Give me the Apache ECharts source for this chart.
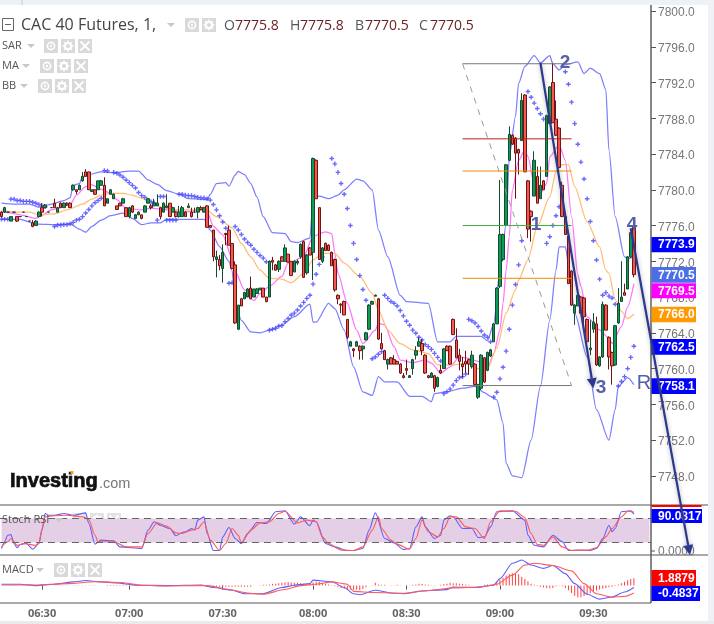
<!DOCTYPE html>
<html><head><meta charset="utf-8">
<style>html,body{margin:0;padding:0;background:#fff}#c{width:714px;height:624px}</style>
<script src="https://cdn.jsdelivr.net/npm/echarts@6/dist/echarts.min.js"></script>
</head><body><div id="c"></div><script>
const timeTickIdx=[13,41,71,100,130,160,190];
const timeTickLabels=['06:30','07:00','07:30','08:00','08:30','09:00','09:30'];
const priceTicks=[7748,7752,7756,7760,7764,7768,7772,7776,7780,7784,7788,7792,7796,7800];
const opens=[7777.5,7777.5,7777.5,7776.5,7777.5,7777,7777,7777.5,7777,7776.5,
7776.3,7776,7777,7778,7778,7777.5,7778,7778.5,7777.5,7778.5,
7778,7778.5,7778.5,7780,7780,7780,7781,7782,7782,7779.8,
7780,7780,7780.5,7780.5,7778.5,7779.5,7779,7778.2,7778.5,7778.5,
7778,7777,7778.2,7776.8,7777.2,7777.2,7777.5,7778.5,7778.2,7778.2,
7778.2,7778,7777.5,7778,7778.5,7777.5,7777.5,7777,7777,7777.5,
7778,7777.5,7777.5,7777.5,7778,7777.5,7778.2,7776,7775.5,7772.2,
7772.2,7771.2,7775.1,7775.5,7774,7771.6,7764.4,7767.8,7767.8,7768,
7769,7768,7768.4,7768.8,7769,7768,7768,7772.1,7771.6,7771.1,
7772.5,7772,7772.8,7772,7770.8,7771.8,7772.5,7774.2,7770.7,7773.5,
7773,7783.3,7778,7772,7774,7773.8,7773,7772.2,7768.2,7767.2,
7767.5,7765.5,7762.5,7762.2,7762.5,7762.5,7762.2,7763.2,7764.4,7767.2,
7768.1,7767.8,7762.8,7762,7760.5,7761.2,7761,7760.8,7760.5,7759.2,
7760,7759,7760,7761.5,7762.5,7762.8,7761.5,7759.2,7759,7759.2,
7758,7759.8,7760,7762.5,7762.5,7765.5,7763.2,7761.5,7760.5,7760.8,
7761,7760.2,7760.5,7756.8,7757.8,7761.2,7759.8,7761.4,7763,7765,
7769.2,7772.2,7776,7783.3,7786.1,7785.8,7784.5,7785.5,7790.6,7781,
7777.6,7779.3,7781.5,7779,7781,7781.5,7787.4,7792,7787.9,7786.9,
7780.5,7777,7774.8,7770.9,7766.2,7767,7768,7767.9,7765.5,7762.1,
7764.4,7765,7760.3,7761.3,7767.1,7763.5,7761.8,7760.4,7765.1,7767.5,
7768.5,7768.9,7772.5,7775.8];
const closes=[7777,7778,7777.5,7777,7777.5,7776.5,7777,7777.5,7777,7776.5,
7775.9,7776.5,7777.5,7777.5,7778.3,7777.5,7778,7778,7778,7778,
7778.5,7778.3,7778,7780.5,7779.8,7780.5,7781.5,7781.5,7780,7780,
7779.5,7781,7781,7778.2,7779,7780,7779.5,7777.8,7778.2,7779,
7777,7778,7777.5,7777.2,7777.5,7776.8,7778.2,7779,7778,7778.5,
7778.5,7777,7778.5,7778.2,7777,7778,7777,7777.5,7778,7777,
7778.2,7777,7777.5,7778,7777.8,7778,7775.8,7775.8,7772.5,7772.5,
7771.5,7773,7775,7773.8,7771.2,7765.1,7767.1,7767,7768.5,7768.9,
7767.8,7768.9,7768.9,7769,7768,7767.5,7772,7771.9,7771,7772,
7772,7773.5,7771.9,7770.4,7772,7772,7773.9,7770.2,7772.7,7772.7,
7783.5,7779,7772.2,7773.5,7773.2,7773.2,7771.5,7768.8,7767.8,7767.1,
7766,7763.5,7763,7762,7763,7762,7762.5,7764,7767.1,7767.5,
7768.2,7763.3,7762.2,7761,7761,7760.5,7760.5,7760.5,7759.5,7759,
7759.8,7759.2,7761,7762,7763,7762,7759.5,7759,7759.5,7757.8,
7759,7759.5,7762.2,7762,7760.5,7763.8,7761.2,7760.8,7760.2,7760.5,
7760.5,7761.5,7758.2,7758.2,7761.5,7758.5,7761.8,7762.1,7765,7769,
7775,7775,7782.8,7786.2,7785.1,7784.1,7784.1,7790,7782,7775.6,
7777,7783.3,7778.5,7780.5,7780,7788.3,7791.5,7787.5,7786.1,7782.5,
7777,7775,7769.5,7767.1,7767.1,7768.2,7766.2,7765.8,7763,7762.3,
7765.2,7760.4,7761.3,7767.2,7764.3,7761.3,7760.3,7764.8,7767.3,7768,
7768.2,7772.5,7775.2,7770.5];
const lows=[7776.9,7777.4,7777.5,7776.5,7777.5,7776.4,7777,7777.5,7777,7776.5,
7775.8,7776,7776.9,7777,7778,7777.5,7778,7778,7777.5,7778,
7778,7778.2,7778,7779.9,7779.5,7780,7780.9,7781.5,7780,7779.8,
7779.4,7780,7780.5,7778.2,7778.5,7779.5,7779,7777.8,7778.2,7778.5,
7777,7776.8,7777.4,7776.8,7777.2,7776.7,7777.5,7778.5,7777.8,7778.2,
7778.2,7776.7,7777.5,7778,7777,7777.5,7776.9,7776.9,7777,7777,
7778,7776.9,7777.4,7776.8,7777.7,7777.5,7775.8,7775.7,7772,7770.2,
7771,7769.6,7773.8,7773.8,7771.2,7765,7764.3,7767,7767.8,7768,
7767.8,7768,7768.4,7768.8,7768,7767.4,7768,7771,7771,7770.8,
7772,7772,7771.9,7770.4,7770.8,7771.6,7772.3,7770.2,7770.5,7772.7,
7769.9,7779,7772.2,7771.8,7773.2,7773.2,7771.5,7768.6,7767.2,7766.2,
7766,7763.3,7762.5,7761.3,7762.5,7761,7761,7763.2,7764.3,7767.2,
7768.1,7763.2,7762.2,7761,7759.9,7760.5,7760.5,7760.5,7759.4,7758.9,
7759.3,7759,7759.3,7761,7762.5,7761.5,7759.4,7758.9,7759,7757.4,
7757.9,7759.4,7760,7762,7760.4,7763.8,7761.2,7759.8,7759,7759.5,
7759.3,7760,7758,7756.6,7757.6,7758.4,7759.7,7761.3,7763,7765,
7769,7772,7776,7783.2,7785,7779,7781.7,7785.5,7782,7774.6,
7774.2,7779.3,7778.5,7779,7780,7781.5,7787.4,7787.5,7786,7782.5,
7777,7775,7769.5,7767,7764.9,7767,7766.2,7765,7762.5,7761.5,
7764,7760.3,7760.2,7761.2,7764.3,7759.9,7758.2,7760.3,7765,7767.5,
7768.2,7768.9,7772.4,7770.2];
const highs=[7777.6,7778.1,7777.5,7777,7777.5,7777,7777,7777.5,7777,7776.5,
7776.6,7776.6,7777.6,7778.5,7778.4,7777.5,7778,7779,7778.1,7778.6,
7778.6,7778.6,7778.6,7780.6,7780,7780.6,7782,7782.3,7782,7780,
7780,7781,7781.1,7781.4,7779,7780.1,7779.6,7778.2,7778.5,7779.1,
7778,7778.1,7778.3,7777.3,7777.6,7777.2,7778.3,7779.1,7778.4,7779,
7779.5,7778,7778.6,7779.5,7778.5,7778.1,7777.6,7778.2,7778.2,7777.6,
7778.5,7778,7778,7778.1,7778.2,7778.1,7778.3,7776,7775.5,7773.2,
7772.7,7773.9,7775.2,7776,7774,7772,7767.1,7767.9,7768.6,7769,
7770.3,7768.9,7769,7769,7769,7768,7772.1,7772.5,7771.7,7772.1,
7772.6,7773.9,7772.8,7772,7772.1,7772.2,7774,7774.3,7772.8,7773.6,
7783.6,7783.4,7778,7773.6,7774.1,7773.9,7773.1,7772.3,7768.3,7767.3,
7767.6,7765.5,7763.1,7762.3,7763.1,7762.6,7762.6,7764.1,7767.2,7767.6,
7768.3,7767.9,7764,7762.1,7761.1,7761.3,7761.5,7760.9,7760.6,7759.5,
7761,7759.3,7761.1,7762.5,7763.5,7763.3,7761.6,7759.3,7759.6,7759.3,
7759.1,7760.4,7762.3,7762.6,7762.6,7765.6,7764.5,7762.2,7761.3,7762,
7761.1,7762,7760.6,7758.3,7761.6,7761.3,7761.9,7762.2,7765.1,7769.1,
7781.1,7775.1,7782.9,7787.1,7786.2,7785.9,7784.6,7790.8,7790.7,7781.1,
7777.7,7784.3,7782.6,7782.6,7781.1,7788.4,7791.6,7794.2,7790,7787,
7780.9,7777.1,7774.9,7771,7767.2,7768.3,7768.1,7768,7765.6,7765.4,
7766.2,7765.8,7761.4,7767.5,7767.2,7763.6,7761.9,7764.9,7769,7772,
7769.5,7772.6,7775.3,7776];
const bbUpper=[[0,7778.5],[4,7778.4],[9,7778.4],[12,7778.05],[16,7778.4],[20,7778.8],[22,7779.1],[23,7780.5],[25,7780.7],[26,7781.5],[28,7781.7],[32,7782],[36,7781.9],[41,7782.1],[44,7782.1],[47,7781.1],[50,7780.6],[53,7779.9],[57,7779.5],[60,7779],[66,7778.9],[67,7779.5],[69,7780.7],[72,7780.8],[73,7780.4],[75,7781.65],[76,7782.07],[78,7781.7],[80,7780.7],[82,7779.2],[84,7777],[87,7775.2],[91,7775.1],[93,7774.2],[95,7774.1],[99,7774.6],[100,7779],[102,7779.3],[105,7779],[108,7779.4],[110,7780],[114,7781.2],[116,7781],[119,7780],[121,7775.5],[124,7772.5],[128,7768.2],[130,7767.5],[137,7767.3],[140,7763],[144,7763],[146,7763.6],[150,7763.6],[154,7763.6],[156,7763.1],[158,7765],[160,7771],[162,7776.2],[163,7783.7],[165,7788.2],[166,7791.9],[168,7793.8],[171,7795],[173,7794.2],[176,7795],[177,7794.1],[179,7793.4],[181,7794],[185,7794.3],[187,7793],[189,7793.6],[192,7793],[194,7791.2],[195,7784.4],[197,7777],[200,7772.5],[201,7772.3],[203,7772.5]];
const bbLower=[[0,7776.7],[6,7776.7],[10,7776.3],[12,7776.15],[17,7776.1],[22,7776.2],[25,7775.6],[27,7775.25],[29,7775.9],[32,7776.6],[35,7777.1],[39,7777.4],[42,7776.8],[45,7776.1],[48,7776.3],[51,7776.3],[53,7776.7],[61,7776.7],[65,7776.7],[67,7775.5],[70,7773.65],[73,7772],[74,7771],[75,7767.3],[77,7765.4],[80,7764.1],[83,7764],[86,7764.3],[90,7764.9],[94,7765.8],[99,7767.2],[100,7765.2],[101,7765.2],[105,7767.3],[107,7766.7],[110,7764.3],[113,7760.2],[116,7757.4],[119,7757],[121,7759.1],[123,7758.5],[127,7758.5],[131,7756.9],[135,7756.9],[138,7756.3],[139,7757.2],[143,7757.4],[148,7757.8],[152,7758],[155,7757.3],[157,7756.9],[159,7756.5],[161,7753.9],[162,7749.4],[164,7748],[167,7747.8],[170,7752],[173,7758],[176,7765.4],[178,7771],[179,7773.6],[181,7773.6],[182,7771.8],[184,7766.2],[188,7761.3],[191,7755.4],[195,7752],[197,7755.4],[198,7758],[201,7759],[203,7758.2]];
const maFast=[[0,7777.5],[2,7777.45],[6,7777.2],[11,7776.8],[13,7777.15],[16,7777.75],[22,7778.3],[24,7779.4],[27,7780.35],[29,7780.55],[32,7780.05],[35,7779.6],[37,7778.9],[40,7777.95],[45,7777.75],[48,7777.95],[53,7777.75],[59,7777.55],[64,7777.75],[66,7777.55],[68,7775.9],[71,7774.95],[74,7772.35],[75,7770.85],[78,7768.8],[81,7767.6],[83,7768.4],[86,7769.2],[90,7770.3],[92,7771.8],[97,7772.5],[100,7774.8],[104,7775.3],[106,7775.1],[107,7772.9],[108,7770.65],[111,7767.3],[114,7764.3],[116,7762.8],[120,7764.3],[121,7765.05],[123,7764.9],[126,7762.45],[128,7760.95],[132,7760.65],[136,7760.95],[138,7760.6],[141,7759.5],[144,7760.2],[147,7761.3],[150,7761.15],[153,7760.8],[156,7760],[158,7761.7],[160,7764.3],[161,7767.3],[162,7771],[163,7774.8],[164,7780],[166,7783.3],[168,7784.45],[169,7783.7],[171,7780.7],[173,7779.6],[175,7780.7],[176,7783.7],[179,7785],[181,7783.3],[183,7777],[185,7770.5],[186,7769.2],[188,7765.8],[192,7764.3],[195,7763.4],[196,7762.8],[199,7764.7],[201,7766.9],[203,7769.5]];
const maSlow=[[0,7777.75],[4,7777.5],[9,7777.5],[12,7777.2],[17,7777.3],[21,7777.75],[26,7778.4],[29,7778.95],[32,7779.4],[35,7779.6],[39,7779.6],[42,7779.4],[45,7779.05],[48,7778.7],[51,7778.1],[55,7777.75],[60,7777.75],[64,7777.75],[66,7777.7],[69,7777],[74,7775.75],[77,7774],[80,7772.5],[83,7771],[86,7770.1],[90,7770],[93,7769.6],[97,7770.65],[100,7772.15],[103,7772.9],[107,7772.9],[110,7771.8],[115,7770.3],[119,7768.4],[121,7766.55],[124,7764.3],[128,7762.8],[132,7762.1],[137,7761.7],[140,7760.4],[144,7760.4],[150,7760.6],[153,7760],[156,7760],[159,7762.3],[162,7766.2],[165,7768.8],[166,7769.9],[169,7772.2],[172,7775.9],[176,7779.2],[178,7782],[180,7782.85],[182,7782.8],[184,7780.35],[188,7776.4],[192,7773.6],[194,7771],[195,7770.65],[197,7767.7],[199,7766.4],[201,7765.6],[203,7766.1]];
const sarPoints=[[0,7776.7],[1,7776.7],[2,7776.7],[3,7778.95],[4,7778.95],[5,7778.8],[6,7778.8],[7,7778.7],[8,7778.7],[9,7778.7],[10,7778.6],[11,7778.5],[12,7778.35],[13,7778.2],[14,7778.1],
[17,7775.9],[18,7776.05],[19,7776.05],[20,7776.1],[21,7776.1],[22,7776.2],[23,7776.35],[24,7776.6],[25,7776.7],[26,7777],[27,7777.4],[28,7777.8],[29,7778.2],[30,7778.55],[31,7778.8],[32,7779.05],
[33,7782.15],[34,7782.1],[36,7781.95],[37,7781.85],[38,7781.65],[39,7781.4],[40,7781.1],[41,7780.8],[42,7780.5],[43,7780.2],[44,7779.7],[45,7779.35],[46,7779.15],[47,7778.8],[48,7778.65],[49,7778.55],
[50,7776.6],[51,7779.25],[52,7779.25],[53,7776.6],[54,7776.6],[55,7776.6],[56,7776.6],[57,7779.5],[58,7779.5],[59,7779.4],[60,7779.35],[61,7779.35],[62,7779.25],[63,7779.15],[64,7779.1],[65,7779.1],[66,7779],[67,7778.85],[68,7778.35],[69,7777.75],[70,7777.1],[71,7776.4],[72,7775.7],[73,7769.55],[74,7769.6],
[75,7775.9],[76,7775.5],[77,7775],[78,7774.5],[79,7774.1],[80,7773.8],[81,7773.35],[82,7773],[83,7772.65],[84,7772.35],[85,7771.95],
[86,7764.3],[87,7764.4],[88,7764.5],[89,7764.75],[90,7764.8],[91,7765.25],[92,7765.6],[93,7766],[94,7766.2],[95,7766.55],[96,7767],[97,7767.4],[98,7767.85],[99,7768.2],[100,7769.45],[101,7770.55],[102,7771.65],[103,7772.5],
[106,7783.5],[107,7782.9],[108,7781.95],[109,7780.7],[110,7779.5],[111,7777.9],[112,7776],[113,7774],[114,7772.2],[115,7770.4],[116,7768.85],[117,7767.65],
[119,7761.1],[120,7761.3],[121,7761.6],[122,7761.9],
[123,7768.2],[124,7767.85],[125,7767.5],[126,7767.3],[127,7767],[128,7766.5],[129,7765.9],[130,7765.3],[131,7764.85],[132,7764.3],[133,7763.95],[134,7763.5],[135,7763.2],[136,7762.7],[137,7762.45],[138,7762.15],[139,7761.7],[140,7761.25],[141,7760.85],
[142,7757.2],[143,7757.4],[144,7757.7],[145,7758.15],[146,7758.65],[147,7759],[148,7759.1],[149,7759.4],
[150,7765.5],[151,7765.35],[152,7765.1],[153,7764.7],[154,7764.2],[155,7763.75],[156,7763.5],[157,7763],
[158,7756.8],[159,7757.35],[160,7758.85],[161,7760.15],[162,7761.95],[163,7764.4],[164,7767.1],[165,7769.4],[166,7771.6],[167,7774.3],
[169,7791],[170,7790.35],[171,7789.7],[172,7789.1],[173,7788.5],[174,7787.9],
[175,7774],[176,7774.75],[177,7776],[178,7777.1],[179,7778.1],
[181,7793.2],[182,7791.8],[183,7789.8],[184,7787.4],[185,7785.1],[186,7783.1],[187,7781.2],[188,7779],[189,7776.45],[190,7774.3],[191,7772.15],[192,7770],[193,7768.2],[194,7768.5],[195,7768.1],[196,7767.9],[197,7767.2],
[198,7758.05],[199,7758.55],[200,7759.1],[201,7760],[202,7761.25],[203,7762.5]];
const stochK=[[0,5],[1,21.7],[2,38],[3,40],[4,17.5],[5,6.7],[6,15],[8,17.5],[10,3.3],[12,17.5],[13,51],[14,92.5],[15,88],[17,88],[20,92.5],[23,88],[27,94],[28,67.5],[30,16],[32,26],[36,24],[38,9],[45,5],[47,51],[49,72],[51,63],[54,55],[56,37],[58,45],[59,47],[61,55],[62,51],[63,76],[65,84],[66,42.5],[68,0],[70,0],[71,34],[73,57.5],[75,30],[77,17.5],[79,42.5],[82,70],[85,67.5],[88,97],[91,99],[94,66],[96,84],[99,62],[100,76],[101,72],[104,17.5],[107,9],[111,0],[113,0],[116,5],[118,51],[120,94],[123,30],[126,19],[129,2.5],[131,5],[133,59],[135,84],[136,59],[139,30],[141,38],[142,76],[144,87],[145,84],[148,55],[151,55],[153,32.5],[155,34],[157,59],[159,97],[164,99],[168,76],[169,38],[171,13],[174,9],[177,38],[180,22],[182,0],[185,1],[189,0],[191,5],[193,30],[195,63],[196,47],[197,55],[199,97],[202,99],[203,91]];
const stochD=[[0,9],[2,22],[3,30],[5,13],[7,17.5],[11,13],[12,19],[13,55],[14,84],[17,87],[21,88],[26,84],[28,77.5],[30,38],[31,22],[36,22],[40,9],[45,9],[47,42.5],[50,69],[53,61],[56,44],[58,42.5],[61,51],[63,55],[65,72],[67,26],[70,0],[72,17.5],[74,55],[76,38],[77,19],[80,51],[83,69],[86,72],[89,92.5],[91,98],[95,69],[98,76],[101,72],[103,34],[105,17.5],[109,1],[113,0],[116,9],[119,51],[121,84],[122,55],[125,26],[127,16],[131,3],[133,30],[135,76],[137,47],[140,34],[142,55],[144,84],[146,84],[149,59],[152,55],[155,30],[157,72],[160,99],[165,98],[168,82.5],[170,42.5],[172,15],[174,13],[177,34],[180,9],[183,0],[188,1],[191,7],[194,34],[196,55],[199,84],[201,98],[203,96]];
const macdLine=[[0,.35],[6,.35],[11,0],[17,.35],[23,.95],[27,1.3],[32,.95],[37,.7],[43,.1],[53,0],[64,.15],[68,-.5],[74,-1.2],[78,-2.1],[84,-2.1],[90,-.5],[94,.1],[99,.5],[100,1.4],[106,1],[110,-.5],[113,-2.1],[115,-2.35],[120,-1.2],[125,-1.9],[129,-2.1],[135,-1.4],[143,-1.05],[145,-.35],[152,-.5],[158,.1],[160,1.8],[164,5.75],[167,6.6],[170,5.3],[174,4.45],[177,5.2],[181,3.1],[184,.5],[188,-2.25],[192,-3.5],[196,-2.95],[200,-1.65],[203,-.48]];
const macdSignal=[[0,.15],[11,.15],[21,.5],[30,1],[38,.8],[45,.1],[53,-.1],[66,0],[73,-1],[79,-1.9],[84,-2.25],[91,-1],[96,0],[101,.35],[106,.95],[111,.35],[113,-1.5],[120,-1.8],[129,-2],[138,-1.2],[145,-.6],[154,-.35],[159,.35],[164,2.7],[168,5.3],[171,5.75],[177,5.2],[183,3.8],[187,.5],[191,-2.1],[196,-3],[200,-2.8],[203,-1.9]];
const macdHist=[0,0,0,0,0,0,0,0,0,0,0,0,0,0,0,0,0,
.1,.1,.1,.1,.1,.1,.1,.1,.1,.1,.1,.1,.1,.1,
0,0,0,-.1,-.1,-.1,-.1,-.1,-.1,-.1,
0,0,0,0,0,0,0,0,0,0,0,0,0,0,0,0,0,0,0,0,0,0,0,0,0,0,
-.3,-.3,-.3,-.3,-.3,-.3,-.3,-.3,-.3,-.3,-.3,-.3,-.3,-.3,
.05,0,.1,
.2,.2,.3,.4,.5,.6,.7,.8,.9,.8,.7,.7,.6,.5,.4,.5,
.8,1,.9,.7,.5,.3,.1,
-.2,-.4,-.6,-.8,-.9,-1,-1.1,-1.1,-1.2,-.9,-.4,
0,.1,.7,.3,.2,.2,0,.1,.1,.2,.1,0,.1,.1,
.2,.3,.5,.4,.3,.2,.1,.1,0,
.2,.4,.5,.7,.6,.6,.5,.4,.3,.2,.1,0,0,0,
.2,.3,.2,.3,.8,1.5,2,2.6,3,3.2,3.2,2.9,2.3,1.7,1.1,.5,.2,
-.1,-.3,-.5,-.6,-.7,-.6,-.2,.1,
-.2,-.6,-1.2,-1.9,-2.6,-3,-3,-2.7,-2.4,-2,-1.6,-1.3,-1,-.8,-.6,-.4,-.3,-.1,
.3,.6,1,1.4,1.7,1.9];
// Fibonacci-style drawing: [startIndex, endIndex, price]
const fibLevels=[[148,183,7794.1,'#777'],[148,183,7785.7,'#b22222'],[148,183,7782.1,'#f08c00'],[148,183,7776,'#3cb043'],[148,183,7770.1,'#f08c00'],[148,183,7758.1,'#777']];
const trendDash=[148,7794.1,183,7758.1];
const arrows=[[172.6,7794.2,189.6,7757.8],[202.4,7775.7,220.9,7739.15]];
const categories=opens.map((_,i)=>{const k=timeTickIdx.indexOf(i);return k>=0?timeTickLabels[k]:'';});
for(let i=opens.length;i<209;i++)categories.push('');

const plus='path://M3.5 0h3v3.5h3.5v3h-3.5v3.5h-3v-3.5h-3.5v-3h3.5z';
const line=(name,data,color,ax,w)=>({name,type:'line',data,xAxisIndex:ax,yAxisIndex:ax,symbol:'none',smooth:.25,smoothMonotone:'x',lineStyle:{color,width:w||1.25},silent:true,z:3});

function icon(x,y,kind,op){
  const c=[{type:'rect',shape:{x:x,y:y,width:14,height:14},style:{fill:'#d9d9d9',opacity:op||1}}];
  const m=x+7,n=y+7;
  if(kind==='eye'){c.push({type:'circle',shape:{cx:m,cy:n,r:3.6},style:{fill:'none',stroke:'#fff',lineWidth:1.6}});c.push({type:'circle',shape:{cx:m,cy:n,r:1.2},style:{fill:'#fff'}});}
  if(kind==='gear'){c.push({type:'circle',shape:{cx:m,cy:n,r:3.2},style:{fill:'none',stroke:'#fff',lineWidth:2.2}});
    [[0,-4.6],[0,4.6],[-4.6,0],[4.6,0],[3.3,3.3],[-3.3,3.3],[3.3,-3.3],[-3.3,-3.3]].forEach(d=>c.push({type:'rect',shape:{x:m+d[0]-.8,y:n+d[1]-.8,width:1.6,height:1.6},style:{fill:'#fff'}}));}
  if(kind==='x'){c.push({type:'line',shape:{x1:x+2.5,y1:y+2.5,x2:x+11.5,y2:y+11.5},style:{stroke:'#fff',lineWidth:1.8}});c.push({type:'line',shape:{x1:x+11.5,y1:y+2.5,x2:x+2.5,y2:y+11.5},style:{stroke:'#fff',lineWidth:1.8}});}
  return {type:'group',silent:true,z:20,children:c};
}
function tri(x,y){return {type:'polygon',z:20,shape:{points:[[x,y],[x+8,y],[x+4,y+4]]},style:{fill:'#c8c8c8'}};}
function txt(x,y,s,font,fill,align,z,extra){return {type:'text',z:z||20,x,y,style:Object.assign({text:s,font,fill,align:align||'left',verticalAlign:'middle'},extra||{})};}
function box(x1,x2,y1,y2,fill,s){return [{type:'rect',z:30,shape:{x:x1,y:y1,width:x2-x1,height:y2-y1},style:{fill}},
  txt(658,(y1+y2)/2+.5,s,'bold 12px "Liberation Sans"','#fff','left',31)];}
function hl(x1,x2,y,col,w){return {type:'line',z:25,shape:{x1,y1:y,x2,y2:y},style:{stroke:col,lineWidth:w||1.2}};}

const ui='"Open Sans"';
const labelFont=`11px ${ui}`;
const gfx=[
 {type:'rect',z:40,shape:{x:0,y:0,width:714,height:5},style:{fill:'#eef1f5'}},
 {type:'rect',z:40,shape:{x:708,y:0,width:6,height:624},style:{fill:'#eef1f5'}},
 {type:'rect',z:40,shape:{x:0,y:621,width:714,height:3},style:{fill:'#e9ebee'}},
 {type:'line',z:41,shape:{x1:22,y1:0,x2:22,y2:5},style:{stroke:'#c8ccd2',lineWidth:1}},
 hl(0,708,505,'#555'),hl(0,708,555,'#555'),hl(0,651,603,'#555'),
 {type:'line',z:25,shape:{x1:651,y1:5,x2:651,y2:603},style:{stroke:'#555',lineWidth:1.4}},
 hl(651,655,551,'#555',1),
 // header
 {type:'rect',z:20,shape:{x:2.5,y:18.5,width:11,height:12},style:{fill:'none',stroke:'#666',lineWidth:1}},
 hl(5,11,24.5,'#666',1),
 txt(21,25,'CAC 40 Futures, 1,',`16px ${ui}`,'#444'),tri(167,23),
 icon(185,18,'eye'),icon(202,18,'gear'),
 txt(224,26,'O',`14px ${ui}`,'#555'),txt(235,26,'7775.8',`14px ${ui}`,'#6e2020'),
 txt(290,26,'H',`14px ${ui}`,'#555'),txt(300,26,'7775.8',`14px ${ui}`,'#6e2020'),
 txt(355,26,'B',`14px ${ui}`,'#555'),txt(365,26,'7770.5',`14px ${ui}`,'#6e2020'),
 txt(419,26,'C',`14px ${ui}`,'#555'),txt(430,26,'7770.5',`14px ${ui}`,'#6e2020'),
 txt(2,46,'SAR',labelFont,'#555'),tri(27,44),icon(44,39,'eye'),icon(61,39,'gear'),icon(78,39,'x'),
 txt(2,66,'MA',labelFont,'#555'),tri(22,64),icon(40,59,'eye'),icon(57,59,'gear'),icon(74,59,'x'),
 txt(2,86,'BB',labelFont,'#555'),tri(20,84),icon(38,79,'eye'),icon(55,79,'gear'),icon(72,79,'x'),
 txt(2,520,'Stoch RSI',labelFont,'#555'),tri(55,518),icon(73,513,'eye',.75),icon(90,513,'gear',.75),icon(107,513,'x',.75),
 txt(2,570,'MACD',labelFont,'#555'),tri(36,568),icon(54,563,'eye'),icon(71,563,'gear'),icon(88,563,'x'),
 // logo
 txt(10,481,'Investing','bold 20px "Liberation Sans"','#111','left',20,{stroke:'#111',lineWidth:.7}),
 txt(99,484,'.com','14.5px "Liberation Sans"','#777'),
 {type:'rect',z:21,shape:{x:70.5,y:471,width:3,height:3},style:{fill:'#f5a623'}},
 // wave labels
 txt(565,63,'2','bold 19px "Liberation Sans"','#565fa9','center',35),
 txt(536,225,'1','bold 19px "Liberation Sans"','#565fa9','center',35),
 txt(601,388,'3','bold 19px "Liberation Sans"','#565fa9','center',35),
 txt(632,225,'4','bold 19px "Liberation Sans"','#565fa9','center',35),
 txt(644,383,'R','20px "Liberation Sans"','#565fa9','center',24),
 // price tags
 ...box(651.5,696,237,252.3,'#0000ff','7773.9'),
 ...box(651.5,696,267,282.7,'#4c6fe8','7770.5'),
 ...box(651.5,696,283.3,298.3,'#ff00ff','7769.5'),
 ...box(651.5,696,306.7,322.3,'#ff9900','7766.0'),
 ...box(651.5,696,339,354.7,'#0000ff','7762.5'),
 ...box(651.5,696,378.3,394,'#0000ff','7758.1'),
 {type:'rect',z:30,shape:{x:651.5,y:505,width:50,height:2},style:{fill:'#ff0000'}},
 ...box(651.5,702,509,523,'#0000ff','90.0817'),
 txt(658,552,'0.0000','12px "Liberation Sans"','#777','left',26),
 ...box(651.5,696,570,586,'#ff0000','1.8879'),
 ...box(651.5,700,586,601,'#0000ff','-0.4837'),
];

const chart=echarts.init(document.getElementById('c'),null,{renderer:'canvas'});
const hiddenX=(g)=>({type:'category',gridIndex:g,data:categories,boundaryGap:true,axisLine:{show:false},axisTick:{show:false},axisLabel:{show:false},splitLine:{show:false}});
const hiddenY=(g,min,max)=>({type:'value',gridIndex:g,min,max,show:false,splitLine:{show:false}});
chart.setOption({
 animation:false,backgroundColor:'#fff',
 grid:[
  {left:-1.5,width:652.5,top:11,height:500.6},
  {left:-1.5,width:652.5,top:505,height:50},
  {left:-1.5,width:652.5,top:555,height:48}],
 xAxis:[hiddenX(0),hiddenX(1),
  {type:'category',gridIndex:2,data:categories,boundaryGap:true,
   axisLine:{show:false},
   axisTick:{show:true,length:4,alignWithLabel:true,interval:i=>timeTickIdx.includes(i),lineStyle:{color:'#555'}},
   axisLabel:{show:true,interval:i=>timeTickIdx.includes(i),margin:5,color:'#666',fontFamily:'Open Sans',fontWeight:700,fontSize:11,hideOverlap:false},
   splitLine:{show:false}}],
 yAxis:[
  {type:'value',gridIndex:0,position:'right',min:7744,max:7800,interval:4,scale:true,
   axisLine:{show:false},
   axisTick:{show:true,length:5,customValues:priceTicks,lineStyle:{color:'#555'}},
   axisLabel:{show:true,customValues:priceTicks,margin:7,color:'#777',fontFamily:'Liberation Sans',fontSize:12,verticalAlign:'top',lineHeight:4,formatter:v=>Number(v).toFixed(1)},
   splitLine:{show:false}},
  hiddenY(1,-11.25,113.75),hiddenY(2,-4.5,7.9)],
 series:[
  line('BB upper',bbUpper,'#7d7dff',0),
  line('BB lower',bbLower,'#7d7dff',0),
  line('MA fast',maFast,'#ff73ff',0),
  line('MA slow',maSlow,'#ffbd73',0),
  {name:'SAR',type:'scatter',data:sarPoints,symbol:plus,symbolSize:4.6,itemStyle:{color:'#4444ff'},silent:true,z:3},
  {name:'CAC 40 Futures',type:'candlestick',data:opens.map((o,i)=>[o,closes[i],lows[i],highs[i]]),barWidth:3,silent:true,z:4,
   itemStyle:{color:'#0b9c57',color0:'#f4584f',borderColor:'#174a2e',borderColor0:'#6e1414',borderColorDoji:'#333',borderWidth:1}},
  {name:'annot',type:'custom',silent:true,z:10,data:[[0,7770]],clip:false,
   renderItem:(p,api)=>{
     const ch=[];
     fibLevels.forEach(f=>{const a=api.coord([f[0],f[2]]),b=api.coord([f[1],f[2]]);
       ch.push({type:'line',shape:{x1:a[0],y1:a[1],x2:b[0],y2:b[1]},style:{stroke:f[3],lineWidth:1}});});
     const d1=api.coord([trendDash[0],trendDash[1]]),d2=api.coord([trendDash[2],trendDash[3]]);
     ch.push({type:'line',shape:{x1:d1[0],y1:d1[1],x2:d2[0],y2:d2[1]},style:{stroke:'#999',lineWidth:1,lineDash:[6,6]}});
     return {type:'group',children:ch};
   }},
  {name:'arrows',type:'custom',silent:true,z:50,zlevel:1,data:[[0,7770]],clip:false,
   renderItem:(p,api)=>{
     const ch=[];
     arrows.forEach(r=>{const a=api.coord([r[0],r[1]]),b=api.coord([r[2],r[3]]);
       const dx=b[0]-a[0],dy=b[1]-a[1],L=Math.hypot(dx,dy),ux=dx/L,uy=dy/L;
       const s=10,w=5;const bx=b[0]-ux*s,by=b[1]-uy*s;
       const sh={shadowBlur:4,shadowColor:'rgba(80,80,80,.45)'};
       ch.push({type:'line',shape:{x1:a[0],y1:a[1],x2:bx,y2:by},style:{stroke:'#2c378e',lineWidth:2.2,...sh}});
       ch.push({type:'polygon',shape:{points:[[b[0],b[1]],[bx-uy*w,by+ux*w],[bx+uy*w,by-ux*w]]},style:{fill:'#2c378e',...sh}});
     });
     return {type:'group',children:ch};
   }},
  {name:'Stoch band',type:'line',xAxisIndex:1,yAxisIndex:1,data:[],silent:true,
   markArea:{silent:true,itemStyle:{color:'#e4cfe7'},data:[[{coord:[0,80]},{coord:[208,20]}]]},
   markLine:{silent:true,symbol:'none',label:{show:false},lineStyle:{color:'#666',type:[7,5],width:1},data:[{yAxis:80},{yAxis:20}]}},
  line('Stoch K',stochK,'#5f5fff',1,1.1),
  line('Stoch D',stochD,'#ff5a5a',1,1.1),
  {name:'MACD hist',type:'bar',xAxisIndex:2,yAxisIndex:2,data:macdHist,barWidth:1,itemStyle:{color:'#ff4040'},silent:true},
  line('MACD',macdLine,'#5f5fff',2,1.1),
  line('Signal',macdSignal,'#ff5a5a',2,1.1),
 ],
 graphic:{elements:gfx}
});
</script></body></html>
